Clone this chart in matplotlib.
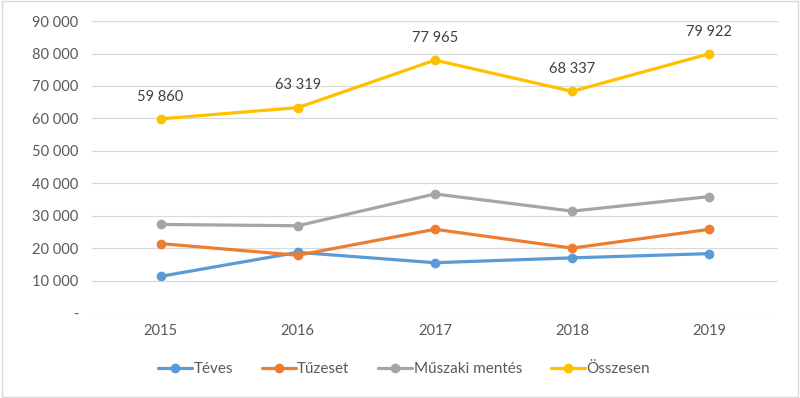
import matplotlib
matplotlib.use("Agg")
import matplotlib.pyplot as plt
from matplotlib.ticker import FuncFormatter
from matplotlib.patches import Rectangle

years = ["2015", "2016", "2017", "2018", "2019"]
teves = [11300, 18700, 15500, 17000, 18300]
tuzeset = [21400, 17800, 25800, 20000, 25800]
muszaki = [27300, 26900, 36700, 31400, 35900]
osszesen = [59860, 63319, 77965, 68337, 79922]

series_names = ["Téves", "Tűzeset", "Műszaki mentés", "Összesen"]
series_vals = [teves, tuzeset, muszaki, osszesen]
colors = ["#5B9BD5", "#ED7D31", "#A5A5A5", "#FFC000"]

plt.rcParams['font.family'] = ['Lato', 'DejaVu Sans']

fig = plt.figure(figsize=(8, 3.98), dpi=100)
ax = fig.add_axes([0.115, 0.2136, 0.8575, 0.7334])

x = list(range(len(years)))
for name, vals, c in zip(series_names, series_vals, colors):
    ax.plot(x, vals, color=c, lw=2.3, marker='o', markersize=6, label=name,
            solid_capstyle='round', zorder=3)

def fmt_num(v):
    return f"{int(round(v)):,}".replace(",", " ")

for xi, v in zip(x, osszesen):
    ax.annotate(fmt_num(v), (xi, v), xytext=(0, 11), textcoords='offset points',
                ha='center', va='bottom', fontsize=10.5, color='#404040')

ax.set_xlim(-0.5, 4.5)
ax.set_ylim(0, 90000)
ax.set_yticks(range(0, 90001, 10000))
ax.yaxis.set_major_formatter(FuncFormatter(lambda v, p: "-" if v == 0 else fmt_num(v)))
ax.set_xticks(x)
ax.set_xticklabels(years)
ax.tick_params(axis='both', length=0, labelsize=10.5, labelcolor='#595959')
ax.tick_params(axis='y', pad=10)
ax.tick_params(axis='x', pad=8)
ax.grid(axis='y', color='#D9D9D9', lw=0.9)
ax.set_axisbelow(True)
for s in ax.spines.values():
    s.set_visible(False)

leg = fig.legend(loc='center', bbox_to_anchor=(0.505, 0.073), ncol=4, frameon=False,
                 fontsize=11, handlelength=2.2, columnspacing=1.9, handletextpad=0.1)
for t in leg.get_texts():
    t.set_color('#595959')

fig.patches.append(Rectangle((0.002, 0.003), 0.996, 0.994, transform=fig.transFigure,
                             fill=False, edgecolor='#D9D9D9', lw=1))

fig.savefig("out.png", dpi=100)
